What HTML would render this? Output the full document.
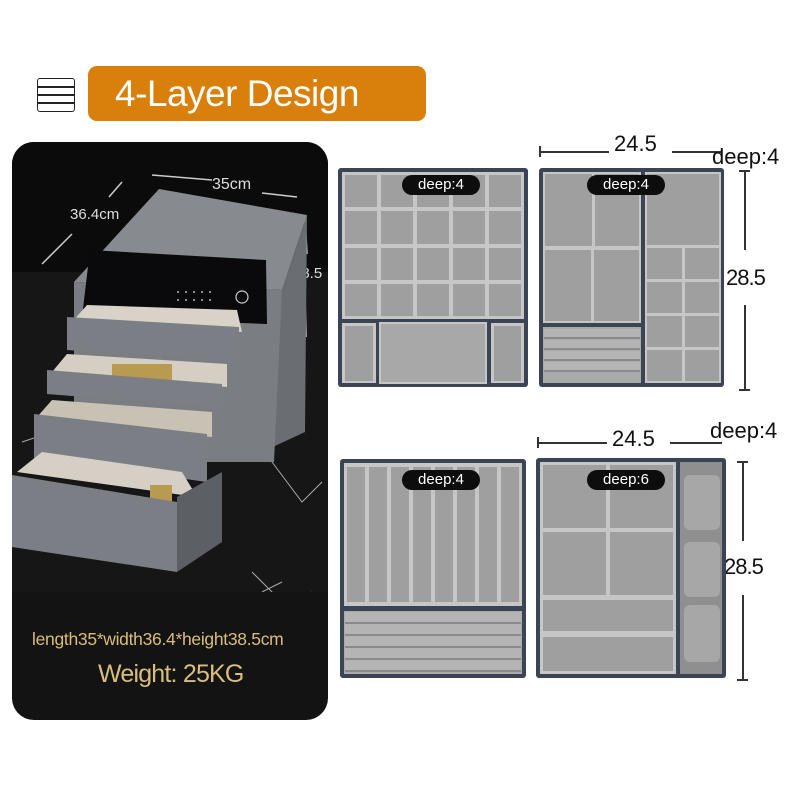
<!DOCTYPE html>
<html><head><meta charset="utf-8"><style>
*{margin:0;padding:0;box-sizing:border-box}
body{width:800px;height:800px;background:#fff;position:relative;overflow:hidden;font-family:"Liberation Sans",sans-serif}
.a{position:absolute}
.fr{position:absolute;background:#3b4455;border-radius:3px}
.w{position:absolute;background:#c6c6c6}
.c{position:absolute;background:#9f9f9f}
.tag{position:absolute;background:#0d0d0d;color:#fff;border-radius:10px;font-size:15px;text-align:center;line-height:20px;height:20px;width:78px}
.dim{position:absolute;font-size:22px;color:#111}
.ln{position:absolute;background:#333}
.ring{position:absolute;background:#b4b4b4;border-bottom:2px solid #8a8a8a}
</style></head><body>

<!-- header -->
<div class="a" style="left:37px;top:78px;width:38px;height:34px;border:1.5px solid #222;border-radius:3px;background:#fff">
 <div class="a" style="left:0;right:0;top:7px;height:1.5px;background:#222"></div>
 <div class="a" style="left:0;right:0;top:15px;height:1.5px;background:#222"></div>
 <div class="a" style="left:0;right:0;top:23px;height:1.5px;background:#222"></div>
</div>
<div class="a" style="left:88px;top:66px;width:338px;height:55px;background:#d97f0b;border-radius:9px;color:#fff;font-size:37px;line-height:55px;padding-left:27px;letter-spacing:-0.5px">4-Layer Design</div>

<!-- left panel -->
<div class="a" style="left:12px;top:142px;width:316px;height:578px;background:#131313;border-radius:22px;overflow:hidden">
<svg width="316" height="450" style="position:absolute;left:0;top:0">
 <rect x="0" y="0" width="316" height="140" fill="#0b0b0b"/>
 <rect x="0" y="130" width="316" height="320" fill="#161616"/>
 <path d="M0 360 L40 380 M240 430 L280 470 L300 450 M260 320 L290 360 L310 340 M10 300 L40 290 M250 450 L270 440" stroke="#aaa" stroke-width="1" fill="none"/>
 <line x1="140" y1="33" x2="200" y2="38" stroke="#ccc" stroke-width="1.5"/>
 <line x1="250" y1="51" x2="285" y2="55" stroke="#ccc" stroke-width="1.5"/>
 <line x1="110" y1="40" x2="97" y2="55" stroke="#ccc" stroke-width="1.5"/>
 <line x1="60" y1="92" x2="30" y2="122" stroke="#ccc" stroke-width="1.5"/>
 <line x1="293" y1="75" x2="295" y2="112" stroke="#ccc" stroke-width="1.5"/>
 <line x1="293" y1="148" x2="294" y2="195" stroke="#ccc" stroke-width="1.5"/>
 <text x="200" y="47" fill="#ddd" font-size="16" font-family="Liberation Sans">35cm</text>
 <text x="58" y="77" fill="#ddd" font-size="15" font-family="Liberation Sans">36.4cm</text>
 <text x="281" y="136" fill="#ddd" font-size="15" font-family="Liberation Sans">38.5</text>
 <!-- cabinet -->
 <polygon points="147,47 295,73 270,148 62,140" fill="#878a8f"/>
 <polygon points="295,73 293,290 250,310 270,148" fill="#6a6d72"/>
 <polygon points="62,140 270,148 262,320 62,320" fill="#7a7d82"/>
 <polygon points="78,108 254,118 255,182 70,175" fill="#0a0a0c"/>
 <circle cx="230" cy="155" r="6" fill="none" stroke="#ccc" stroke-width="1.2"/>
 <g fill="#bbb"><circle cx="166" cy="150" r="1"/><circle cx="174" cy="150" r="1"/><circle cx="182" cy="150" r="1"/><circle cx="190" cy="150" r="1"/><circle cx="198" cy="150" r="1"/><circle cx="166" cy="158" r="1"/><circle cx="174" cy="158" r="1"/><circle cx="182" cy="158" r="1"/><circle cx="190" cy="158" r="1"/><circle cx="198" cy="158" r="1"/></g>
 <polygon points="75,163 225,168 230,190 60,180" fill="#d8d2c8"/>
 <polygon points="55,175 227,185 227,220 55,208" fill="#7b7e84"/>
 <polygon points="55,212 215,222 215,245 40,230" fill="#d5cfc3"/>
 <rect x="100" y="222" width="60" height="18" fill="#b89a50"/>
 <polygon points="35,228 210,242 210,266 35,252" fill="#7b7e84"/>
 <polygon points="40,258 200,270 200,295 25,275" fill="#c8c2b5"/>
 <polygon points="22,272 195,292 195,340 22,316" fill="#7b7e84"/>
 <polygon points="30,310 170,330 185,355 5,330" fill="#d5cfc6"/>
 <rect x="138" y="343" width="22" height="30" fill="#b89a50"/>
 <polygon points="0,333 165,360 165,430 0,405" fill="#7b7e84"/>
 <polygon points="165,355 210,330 210,400 165,430" fill="#5c5f64"/>
</svg>
 <div class="a" style="left:20px;top:487px;font-size:17.5px;color:#d9bd7a;white-space:nowrap;letter-spacing:-0.3px">length35*width36.4*height38.5cm</div>
 <div class="a" style="left:86px;top:518px;font-size:25px;color:#d9bd7a;white-space:nowrap;letter-spacing:-0.8px">Weight: 25KG</div>
</div>

<!-- dims top -->
<div class="ln" style="left:539px;top:151px;width:70px;height:1.5px"></div>
<div class="ln" style="left:672px;top:151px;width:50px;height:1.5px"></div>
<div class="ln" style="left:539px;top:146px;width:1.5px;height:11px"></div>
<div class="dim" style="left:614px;top:131px">24.5</div>
<div class="dim" style="left:712px;top:144px">deep:4</div>
<div class="ln" style="left:744px;top:170px;width:1.5px;height:80px"></div>
<div class="ln" style="left:744px;top:305px;width:1.5px;height:85px"></div>
<div class="ln" style="left:739px;top:170px;width:11px;height:1.5px"></div>
<div class="ln" style="left:739px;top:389px;width:11px;height:1.5px"></div>
<div class="dim" style="left:726px;top:265px;letter-spacing:-1px">28.5</div>

<!-- dims bottom -->
<div class="ln" style="left:537px;top:442px;width:70px;height:1.5px"></div>
<div class="ln" style="left:670px;top:442px;width:52px;height:1.5px"></div>
<div class="ln" style="left:537px;top:437px;width:1.5px;height:11px"></div>
<div class="dim" style="left:612px;top:426px">24.5</div>
<div class="dim" style="left:710px;top:418px">deep:4</div>
<div class="ln" style="left:742px;top:461px;width:1.5px;height:80px"></div>
<div class="ln" style="left:742px;top:595px;width:1.5px;height:85px"></div>
<div class="ln" style="left:737px;top:461px;width:11px;height:1.5px"></div>
<div class="ln" style="left:737px;top:679px;width:11px;height:1.5px"></div>
<div class="dim" style="left:724px;top:554px;letter-spacing:-1px">28.5</div>

<!-- tray 1 -->
<div class="fr" style="left:338px;top:168px;width:190px;height:219px"></div>
<div class="w" style="left:342px;top:172px;width:182px;height:147px"></div>
<div class="a" style="left:342px;top:172px;width:182px;height:147px;display:grid;grid-template-columns:repeat(5,1fr);grid-template-rows:repeat(4,1fr);gap:4px;padding:3px">
 <div class="c" style="position:static"></div><div class="c" style="position:static"></div><div class="c" style="position:static"></div><div class="c" style="position:static"></div><div class="c" style="position:static"></div>
 <div class="c" style="position:static"></div><div class="c" style="position:static"></div><div class="c" style="position:static"></div><div class="c" style="position:static"></div><div class="c" style="position:static"></div>
 <div class="c" style="position:static"></div><div class="c" style="position:static"></div><div class="c" style="position:static"></div><div class="c" style="position:static"></div><div class="c" style="position:static"></div>
 <div class="c" style="position:static"></div><div class="c" style="position:static"></div><div class="c" style="position:static"></div><div class="c" style="position:static"></div><div class="c" style="position:static"></div>
</div>
<div class="w" style="left:342px;top:323px;width:34px;height:60px"></div><div class="c" style="left:345px;top:326px;width:28px;height:55px"></div>
<div class="w" style="left:379px;top:322px;width:108px;height:62px;background:#a8a8a8;border:2px solid #c6c6c6"></div>
<div class="w" style="left:491px;top:323px;width:33px;height:60px"></div><div class="c" style="left:494px;top:326px;width:27px;height:55px"></div>
<div class="tag" style="left:402px;top:175px">deep:4</div>

<!-- tray 2 -->
<div class="fr" style="left:539px;top:168px;width:185px;height:219px"></div>
<div class="w" style="left:543px;top:172px;width:98px;height:151px"></div>
<div class="c" style="left:545px;top:174px;width:47px;height:72px"></div>
<div class="c" style="left:595px;top:174px;width:44px;height:72px"></div>
<div class="c" style="left:545px;top:250px;width:46px;height:71px"></div>
<div class="c" style="left:594px;top:250px;width:45px;height:71px"></div>
<div class="w" style="left:543px;top:327px;width:98px;height:56px;background:#aaa"></div>
<div class="ring" style="left:544px;top:329px;width:96px;height:10px"></div>
<div class="ring" style="left:544px;top:340px;width:96px;height:10px"></div>
<div class="ring" style="left:544px;top:351px;width:96px;height:10px"></div>
<div class="ring" style="left:544px;top:362px;width:96px;height:10px"></div>
<div class="w" style="left:645px;top:172px;width:76px;height:211px"></div>
<div class="c" style="left:647px;top:174px;width:72px;height:71px"></div>
<div class="a" style="left:645px;top:246px;width:76px;height:137px;display:grid;grid-template-columns:1fr 1fr;grid-template-rows:repeat(4,1fr);gap:3px;padding:2px">
 <div class="c" style="position:static"></div><div class="c" style="position:static"></div><div class="c" style="position:static"></div><div class="c" style="position:static"></div>
 <div class="c" style="position:static"></div><div class="c" style="position:static"></div><div class="c" style="position:static"></div><div class="c" style="position:static"></div>
</div>
<div class="tag" style="left:587px;top:175px">deep:4</div>

<!-- tray 3 -->
<div class="fr" style="left:340px;top:459px;width:186px;height:219px"></div>
<div class="w" style="left:344px;top:463px;width:178px;height:143px"></div>
<div class="a" style="left:344px;top:463px;width:178px;height:143px;display:grid;grid-template-columns:repeat(8,1fr);gap:4px;padding:4px 3px">
 <div class="c" style="position:static"></div><div class="c" style="position:static"></div><div class="c" style="position:static"></div><div class="c" style="position:static"></div>
 <div class="c" style="position:static"></div><div class="c" style="position:static"></div><div class="c" style="position:static"></div><div class="c" style="position:static"></div>
</div>
<div class="w" style="left:344px;top:611px;width:178px;height:63px;background:#aaa"></div>
<div class="ring" style="left:345px;top:612px;width:176px;height:12px"></div>
<div class="ring" style="left:345px;top:624px;width:176px;height:12px"></div>
<div class="ring" style="left:345px;top:636px;width:176px;height:12px"></div>
<div class="ring" style="left:345px;top:648px;width:176px;height:12px"></div>
<div class="ring" style="left:345px;top:660px;width:176px;height:12px"></div>
<div class="tag" style="left:402px;top:470px">deep:4</div>

<!-- tray 4 -->
<div class="fr" style="left:536px;top:458px;width:190px;height:220px"></div>
<div class="w" style="left:540px;top:462px;width:136px;height:212px"></div>
<div class="c" style="left:543px;top:465px;width:63px;height:63px"></div>
<div class="c" style="left:610px;top:465px;width:63px;height:63px"></div>
<div class="c" style="left:543px;top:532px;width:63px;height:63px"></div>
<div class="c" style="left:610px;top:532px;width:63px;height:63px"></div>
<div class="c" style="left:543px;top:600px;width:130px;height:31px"></div>
<div class="c" style="left:543px;top:637px;width:130px;height:34px"></div>
<div class="w" style="left:680px;top:462px;width:42px;height:212px;background:#8f8f8f"></div>
<div class="a" style="left:684px;top:475px;width:36px;height:55px;background:#a7a7a7;border-radius:6px"></div>
<div class="a" style="left:684px;top:542px;width:36px;height:55px;background:#a7a7a7;border-radius:6px"></div>
<div class="a" style="left:684px;top:605px;width:36px;height:57px;background:#a7a7a7;border-radius:6px"></div>
<div class="tag" style="left:587px;top:470px">deep:6</div>

</body></html>
